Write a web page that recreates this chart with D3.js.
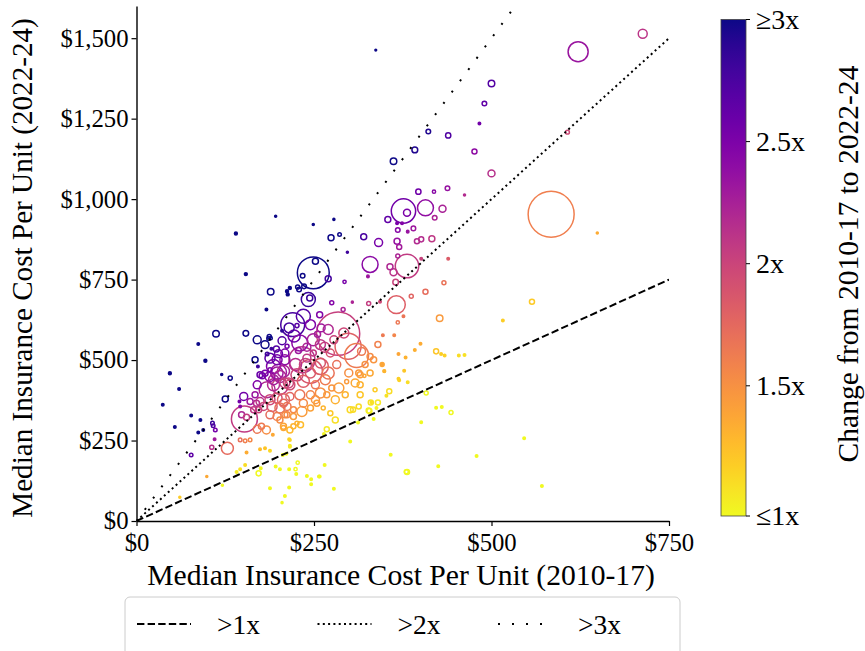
<!DOCTYPE html>
<html><head><meta charset="utf-8">
<script src="https://cdn.jsdelivr.net/npm/d3@7"></script>
<style>body{margin:0;background:#fff}svg{display:block}text{font-family:"Liberation Serif","DejaVu Serif",serif;fill:#000}</style>
</head><body>
<svg id="c" width="865" height="651"></svg>
<script>
// ---- data ----
const xTicks = [0, 250, 500, 750];
const yTicks = [0, 250, 500, 750, 1000, 1250, 1500];
const cbTicks = [1, 1.5, 2, 2.5, 3];
const cbLabels = ["≤1x", "1.5x", "2x", "2.5x", "≥3x"];
const refMultipliers = [1, 2, 3];
const refLabels = [">1x", ">2x", ">3x"];
const xTitle = "Median Insurance Cost Per Unit (2010-17)";
const yTitle = "Median Insurance Cost Per Unit (2022-24)";
const cbTitle = "Change from 2010-17 to 2022-24";

// median cost per unit 2010-17
const costBefore = [622,713,500,490,483,411,439,476,392,362,607,500,397,419,438,462,584,649,337,376,
407,381,431,420,354,367,374,368,382,390,367,370,395,401,416,341,368,401,357,362,
381,365,439,433,407,387,366,376,368,427,557,516,347,363,400,392,422,429,434,454,
462,369,379,346,349,377,369,343,196,249,278,140,274,286,320,297,329,326,154,249,
252,234,270,189,212,213,216,229,236,242,244,227,183,293,304,275,291,327,284,220,
235,226,298,310,317,340,112,154,87,97,47,120,132,186,189,184,190,197,200,177,
171,188,212,205,187,193,200,233,245,259,60,37,77,90,54,87,94,125,107,108,
111,110,106,77,170,151,145,146,152,148,155,170,128,146,153,160,155,174,99,61,
121,153,146,141,172,175,188,205,209,215,196,202,215,225,240,257,246,278,227,215,
216,206,211,188,181,265,301,268,264,305,313,327,330,340,312,224,331,328,338,334,
358,380,356,352,370,382,408,422,430,443,401,381,425,479,546,571,174,181,188,198,
207,184,193,202,209,188,198,207,174,179,191,202,212,188,198,209,172,167,160,169,
165,170,188,273,278,292,329,334,315,198,209,224,240,249,259,270,282,299,313,329,
346,230,249,270,245,258,193,202,214,226,235,245,252,259,268,275,285,245,235,233,
245,254,263,273,221,212,221,202,207,221,226,216,207,308,315,296,321,349,183,176,
207,192,216,216,246,258,215,205,222,260,265,240,228,255,
230,252,280,294,266,216,238,209,259,181,167,315,301,322,336,280,216,231];
// median cost per unit 2022-24
const costAfter = [1458,1514,1359,1297,1235,1210,1198,1148,1153,1118,1208,1080,1023,1023,1034,1013,953,895,1463,963,
973,958,970,942,937,925,925,904,899,909,869,851,869,875,877,865,823,815,790,773,
792,742,815,740,712,698,672,636,617,630,681,623,577,577,551,531,527,519,514,514,
516,519,508,487,466,467,442,681,947,921,937,893,880,890,883,835,797,760,767,771,
807,762,753,712,714,704,724,719,729,688,693,727,657,743,680,678,657,676,582,610,
636,607,543,514,527,548,582,583,550,498,459,455,444,567,568,519,535,534,520,451,
480,470,543,591,573,480,462,501,465,480,410,361,328,314,292,275,283,379,304,296,
283,254,229,205,423,387,371,356,317,330,322,285,226,252,249,252,213,223,138,74,
111,174,161,152,148,164,102,57,78,104,169,161,161,146,140,138,114,100,181,254,
234,205,209,218,226,174,247,285,270,346,356,343,368,368,306,161,369,342,351,317,
206,153,403,389,437,431,398,352,354,337,307,152,170,202,257,109,454,459,449,460,
465,408,423,418,429,377,382,377,371,356,356,351,356,330,325,330,346,392,371,366,
346,563,506,522,563,584,460,501,454,501,522,486,506,522,491,460,486,460,460,511,
486,553,563,595,610,641,439,449,429,454,434,460,423,398,392,413,413,392,366,340,
351,366,351,335,346,330,325,314,289,294,304,387,366,429,423,433,451,465,283,294,
294,268,231,252,130,138,600,560,575,600,540,540,530,580,
392,377,377,392,439,423,486,501,548,548,501,392,346,486,408,314,283,299];
// relative number of units (marker size)
const unitCount = [19,3.8,2,1,0.3,1,1.3,1.2,1.6,2,0.7,2.3,1.3,0.5,1,0.2,100,0.2,0.15,28,
12,2.3,2.3,1,1.7,0.3,0.3,1,0.3,1,1.7,1.2,1.2,1.2,1.7,3,0.76,0.3,1.7,2.3,
26,1.5,0.3,0.76,1.2,0.76,15,0.3,0.5,2,1.2,0.3,0.3,0.3,0.3,0.3,1.2,0.3,0.3,0.3,
0.3,0.3,0.3,0.3,0.3,0.3,0.3,0.3,0.2,0.2,0.2,0.4,1.7,0.6,1.7,0.2,12,0.3,0.4,48,
1.7,1,1.7,2,0.4,0.4,0.4,1,1,9.3,1.7,0.8,0.3,0.5,0.2,0.76,0.76,0.76,88,27,
9.3,0.8,32,27,3,1.7,2,1.5,0.3,0.4,0.4,0.2,0.8,0.6,0.5,0.6,0.3,1.7,3,1.7,
0.3,0.76,0.76,0.3,0.8,9.3,12,32,27,12,0.3,0.3,0.3,0.3,0.3,0.3,0.3,1.7,0.6,0.6,
0.6,0.3,0.8,0.6,3,3,0.3,0.3,32,1.7,1.7,3,6.8,0.6,0.6,0.6,0.3,0.3,0.2,0.2,
0.2,0.3,0.3,0.3,1.2,0.3,0.3,0.2,0.3,0.3,0.3,0.3,0.3,0.3,0.3,0.3,0.3,0.3,0.5,0.3,
0.3,0.3,0.3,0.3,0.3,0.3,0.3,1.2,0.3,1.2,1.2,1.2,1.2,1.2,0.3,0.5,0.3,1.2,0.3,0.3,
0.3,0.76,1.2,0.3,0.3,0.3,0.76,0.3,0.3,0.76,0.3,1.2,0.3,0.3,0.3,0.3,1.7,1.7,4.7,6.8,
6.8,12,6.8,12,4.7,4.7,4.7,6.8,3,3,4.7,4.7,3,3,3,1.7,1.7,1.7,1.7,1.7,
1.7,3,4.7,3,3,4.7,1.7,1.7,1.7,4.7,3,6.8,3,1.7,4.7,6.8,3,3,1.7,1.7,
0.76,12,6.8,4.7,4.7,1.7,4.7,6.8,4.7,6.8,6.8,4.7,3,4.7,1.7,1.7,4.7,3,3,4.7,
1.7,1.7,0.76,1.2,1.7,1.7,1.7,1.7,1.2,1.2,0.76,3,3,3,1.7,0.76,0.5,0.3,3,1.7,
1.7,0.3,0.3,0.3,0.3,0.3,4.7,3,6.8,3,4.7,3,1.7,1.7,
4.7,3,3,1.7,4.7,4.7,6.8,4.7,4.7,3,1.7,1.7,1.7,1.7,0.76,1.7,1.7,1.7];

// ---- build ----
const svg = d3.select("#c");
const x = d3.scaleLinear().domain([0, 750]).range([136.5, 669]);
const y = d3.scaleLinear().domain([0, 1600]).range([521, 6]);
const r = d3.scaleSqrt().domain([0, 100]).range([0, 23]);
const colorOf = ratio => d3.interpolatePlasma(1 - Math.max(0, Math.min(1, (ratio - 1) / 2)));
const money = d => "$" + d3.format(",")(d);

function fitSize(txt, width) {
  const t = svg.append("text").style("font-size", "100px").text(txt);
  const L = t.node().getComputedTextLength();
  t.remove();
  return 100 * width / L;
}

const points = costBefore.map((b, i) => ({b, a: costAfter[i], s: unitCount[i]}));

svg.append("clipPath").attr("id", "plot").append("rect")
  .attr("x", x(0)).attr("y", y(1600)).attr("width", x(750) - x(0)).attr("height", y(0) - y(1600));

const plot = svg.append("g").attr("clip-path", "url(#plot)");
plot.selectAll("circle").data(points.slice().sort((p, q) => q.s - p.s)).join("circle")
  .attr("cx", d => x(d.b)).attr("cy", d => y(d.a))
  .attr("r", d => Math.max(0.9, r(d.s)))
  .attr("fill", d => r(d.s) < 1.6 ? colorOf(d.a / d.b) : "none")
  .attr("stroke", d => colorOf(d.a / d.b))
  .attr("stroke-width", 1.5);

const dashStyles = ["7.4,3.2", "2,3.3", "2,12"];
refMultipliers.forEach((m, i) => {
  const xe = Math.min(750, 1600 / m);
  plot.append("line")
    .attr("x1", x(0)).attr("y1", y(0)).attr("x2", x(xe)).attr("y2", y(xe * m))
    .attr("stroke", "#000").attr("stroke-width", 2).attr("stroke-dasharray", dashStyles[i]);
});

// axes
const tickFs = fitSize("$1,500", 68);
const yAxis = svg.append("g").attr("transform", `translate(${x(0)},0)`)
  .call(d3.axisLeft(y).tickValues(yTicks).tickFormat(money).tickSize(5).tickSizeOuter(0).tickPadding(3));
const xAxis = svg.append("g").attr("transform", `translate(0,${y(0)})`)
  .call(d3.axisBottom(x).tickValues(xTicks).tickFormat(money).tickSize(5).tickSizeOuter(0).tickPadding(7));
[xAxis, yAxis].forEach(g => {
  g.selectAll("text").style("font-size", tickFs + "px").style("font-family", '"Liberation Serif",serif').attr("fill", "#000");
  g.selectAll("line").attr("stroke", "#000").attr("stroke-width", 1.2);
  g.select(".domain").attr("stroke", "#000").attr("stroke-width", 1.4);
});

svg.append("text").attr("x", 401).attr("y", 585).attr("text-anchor", "middle")
  .style("font-size", fitSize(xTitle, 508) + "px").text(xTitle);
svg.append("text").attr("transform", "translate(22,268) rotate(-90)").attr("dy", "0.35em")
  .attr("text-anchor", "middle").style("font-size", fitSize(yTitle, 500) + "px").text(yTitle);

// colorbar
const cb = d3.scaleLinear().domain([1, 3]).range([507.9, 19.5]);
const grad = svg.append("defs").append("linearGradient").attr("id", "cbg")
  .attr("x1", 0).attr("y1", 1).attr("x2", 0).attr("y2", 0);
d3.range(0, 1.0001, 0.05).forEach(t => grad.append("stop").attr("offset", t).attr("stop-color", d3.interpolatePlasma(1 - t)));
const cbTop = cb(3), cbBot = 516;
svg.append("rect").attr("x", 721).attr("y", cbTop).attr("width", 25).attr("height", cbBot - cbTop)
  .attr("fill", "url(#cbg)").attr("stroke", "#444").attr("stroke-width", 0.8);
const cbFs = fitSize("2.5x", 49);
cbTicks.forEach((v, i) => {
  const yy = i === 0 ? cbBot : cb(v);
  svg.append("line").attr("x1", 746).attr("x2", 750).attr("y1", yy).attr("y2", yy).attr("stroke", "#000").attr("stroke-width", 1);
  svg.append("text").attr("x", 756).attr("y", yy).attr("dy", "0.33em").style("font-size", cbFs + "px").text(cbLabels[i]);
});
svg.append("text").attr("transform", "translate(848,264) rotate(-90)").attr("dy", "0.35em")
  .attr("text-anchor", "middle").style("font-size", fitSize(cbTitle, 397) + "px").text(cbTitle);

// legend
svg.append("rect").attr("x", 125).attr("y", 597).attr("width", 555).attr("height", 70).attr("rx", 5)
  .attr("fill", "#fff").attr("stroke", "#ccc").attr("stroke-width", 1);
const legFs = fitSize(">1x", 43);
refLabels.forEach((lab, i) => {
  const x0 = 137 + i * 180.5;
  svg.append("line").attr("x1", x0).attr("x2", x0 + 54).attr("y1", 624).attr("y2", 624)
    .attr("stroke", "#000").attr("stroke-width", 2).attr("stroke-dasharray", dashStyles[i]);
  svg.append("text").attr("x", x0 + 80).attr("y", 624).attr("dy", "0.35em").style("font-size", legFs + "px").text(lab);
});
</script>
</body></html>
